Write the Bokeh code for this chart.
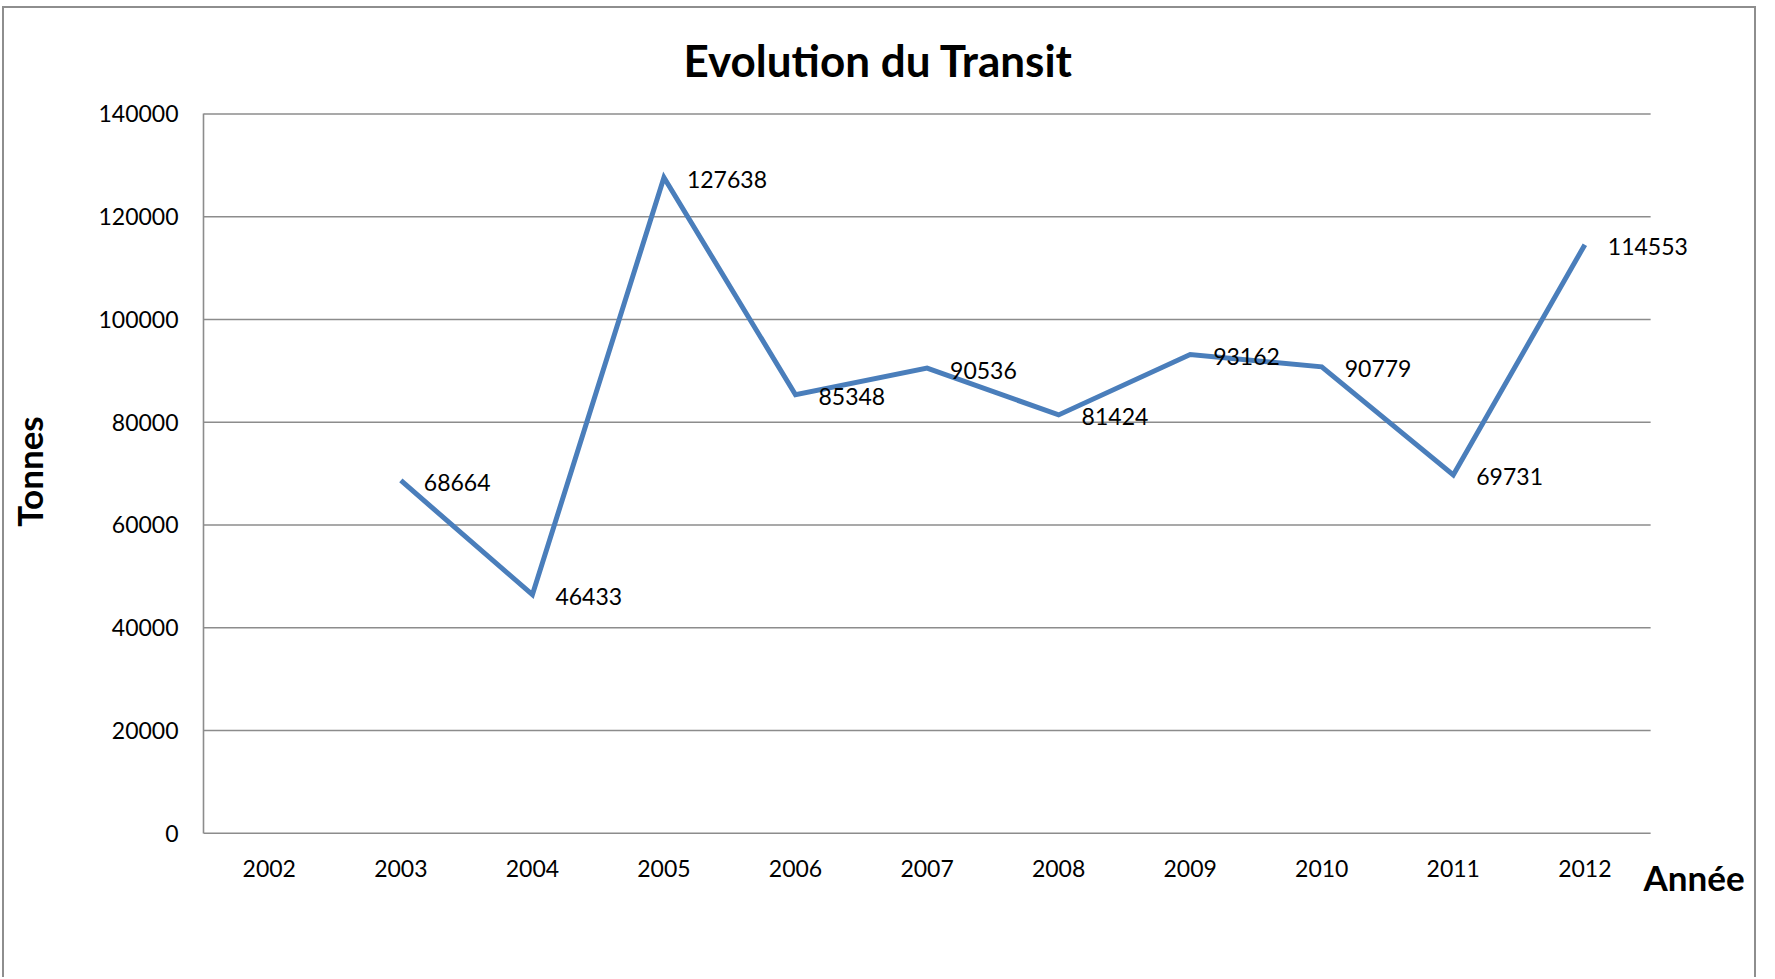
from bokeh.plotting import figure
from bokeh.models import Range1d, ColumnDataSource, LabelSet, Label, FixedTicker, NumeralTickFormatter
from bokeh.embed import file_html
from bokeh.resources import INLINE
from bokeh.core.properties import value

years = [2002, 2003, 2004, 2005, 2006, 2007, 2008, 2009, 2010, 2011, 2012]
line_years = [2003, 2004, 2005, 2006, 2007, 2008, 2009, 2010, 2011, 2012]
tonnes = [68664, 46433, 127638, 85348, 90536, 81424, 93162, 90779, 69731, 114553]
y_ticks = [0, 20000, 40000, 60000, 80000, 100000, 120000, 140000]

FONT = "Lato"
GRID = "#8C8C8C"
BORDER = "#8E8E8E"

p = figure(
    x_range=Range1d(2001.5, 2013.32),
    y_range=Range1d(-19699, 160520),
    width=1754, height=971,
    output_backend="svg", toolbar_location=None,
    x_axis_location=None,
    min_border_left=199, min_border_right=0, min_border_top=0, min_border_bottom=45,
)
p.styles = {"border-top": f"2px solid {BORDER}", "border-left": f"2px solid {BORDER}",
            "border-right": f"2px solid {BORDER}", "box-sizing": "border-box",
            "margin-left": "2px", "margin-top": "6px"}
p.outline_line_color = None
p.background_fill_color = "white"
p.border_fill_color = "white"
p.xgrid.grid_line_color = None
p.ygrid.grid_line_color = None

# horizontal gridlines (incl. the x-axis line at 0), spanning the category band
n = len(y_ticks)
p.segment(x0=[years[0] - 0.5] * n, x1=[years[-1] + 0.5] * n, y0=y_ticks, y1=y_ticks,
          line_color=GRID, line_width=1.6)

src = ColumnDataSource(dict(x=line_years, y=tonnes, t=[str(v) for v in tonnes]))
p.line("x", "y", source=src, line_color="#4A7EBB", line_width=5, line_join="miter")

p.add_layout(LabelSet(x="x", y="y", text="t", source=src, x_offset=23, y_offset=-2,
                      text_font=value(FONT), text_font_size="23px", text_color="black",
                      text_baseline="middle", text_align="left"))

# x tick labels
ysrc = ColumnDataSource(dict(x=years, y=[0] * len(years), t=[str(v) for v in years]))
p.add_layout(LabelSet(x="x", y="y", text="t", source=ysrc, y_offset=-35,
                      text_font=value(FONT), text_font_size="23px", text_color="black",
                      text_baseline="middle", text_align="center"))

# y axis
p.yaxis.bounds = (y_ticks[0], y_ticks[-1])
p.yaxis.ticker = FixedTicker(ticks=y_ticks)
p.yaxis.formatter = NumeralTickFormatter(format="0")
p.yaxis.major_label_text_font = FONT
p.yaxis.major_label_text_font_size = "23px"
p.yaxis.major_label_text_color = "black"
p.yaxis.major_label_standoff = 25
p.yaxis.major_tick_out = 0
p.yaxis.major_tick_in = 0
p.yaxis.major_tick_line_color = None
p.yaxis.minor_tick_line_color = None
p.yaxis.axis_line_color = GRID
p.yaxis.axis_line_width = 1.6
p.yaxis.axis_label = "Tonnes"
p.yaxis.axis_label_text_font = FONT
p.yaxis.axis_label_text_font_style = "bold"
p.yaxis.axis_label_text_font_size = "35px"
p.yaxis.axis_label_text_color = "black"
p.yaxis.axis_label_standoff = 45

# title and x axis name
p.add_layout(Label(x=2006.63, y=150570, text="Evolution du Transit", text_font=FONT,
                   text_font_style="bold", text_font_size="44px", text_color="black",
                   text_align="center", text_baseline="middle"))
p.add_layout(Label(x=2012.83, y=-8580, text="Année", text_font=FONT,
                   text_font_style="bold", text_font_size="35px", text_color="black",
                   text_align="center", text_baseline="middle"))

open("out.html", "w").write(file_html(p, INLINE))
